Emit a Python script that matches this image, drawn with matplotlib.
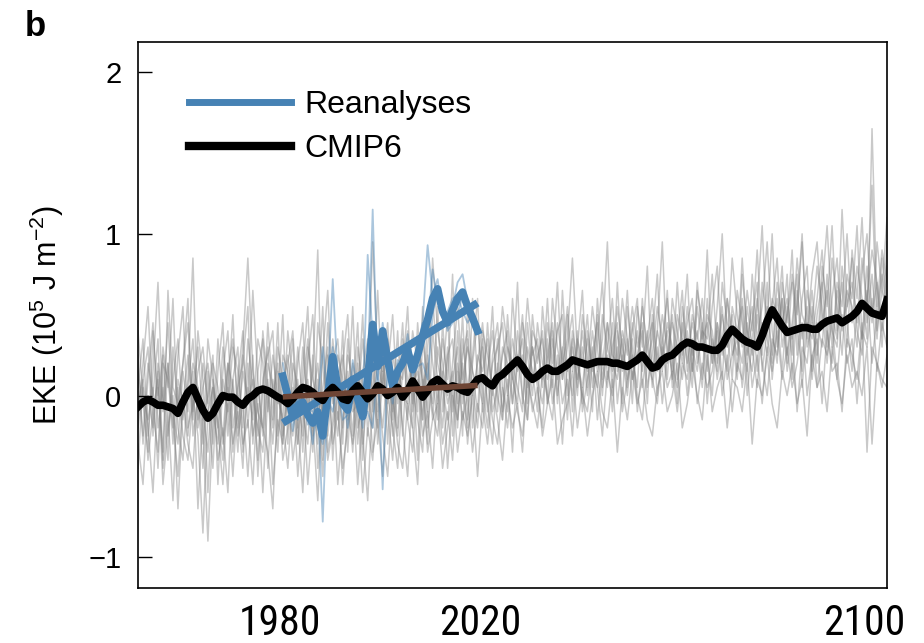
import numpy as np
import matplotlib
matplotlib.use("Agg")
import matplotlib.pyplot as plt
from matplotlib.lines import Line2D
from matplotlib.transforms import ScaledTranslation

plt.rcParams['font.family'] = ['Liberation Sans', 'DejaVu Sans']
plt.rcParams['mathtext.fontset'] = 'custom'
plt.rcParams['mathtext.rm'] = 'Liberation Sans'
plt.rcParams['mathtext.it'] = 'Liberation Sans:italic'
plt.rcParams['mathtext.bf'] = 'Liberation Sans:bold'
plt.rcParams['mathtext.default'] = 'regular'

# ---------------- data ----------------
years = list(range(1950, 2101))
rean_years = list(range(1979, 2019))

# CMIP6 multi-model mean (1950-2100)
cmip6_mean = [
    -0.07, -0.04, -0.025, -0.04, -0.06, -0.06, -0.07, -0.08, -0.11, -0.04,   # 1950s
    0.02, 0.05, -0.02, -0.09, -0.14, -0.11, -0.05, 0.00, -0.01, -0.01,       # 1960s
    -0.04, -0.06, -0.02, 0.00, 0.03, 0.04, 0.03, 0.01, -0.01, -0.025,        # 1970s
    -0.05, -0.02, 0.02, 0.05, 0.04, 0.02, -0.01, -0.03, 0.02, 0.05,          # 1980s
    0.02, -0.02, -0.03, 0.03, 0.06, 0.02, -0.02, 0.01, 0.06, 0.04,           # 1990s
    0.00, 0.02, 0.05, -0.01, 0.03, 0.09, 0.04, -0.01, 0.03, 0.08,            # 2000s
    0.10, 0.07, 0.04, 0.06, 0.05, 0.03, 0.02, 0.06, 0.10, 0.11,              # 2010s
    0.08, 0.06, 0.11, 0.13, 0.16, 0.19, 0.22, 0.18, 0.13, 0.10,              # 2020s
    0.12, 0.15, 0.17, 0.15, 0.15, 0.17, 0.19, 0.22, 0.21, 0.20,              # 2030s
    0.19, 0.20, 0.21, 0.21, 0.21, 0.20, 0.20, 0.19, 0.18, 0.20,              # 2040s
    0.22, 0.25, 0.21, 0.17, 0.18, 0.22, 0.24, 0.25, 0.28, 0.31,              # 2050s
    0.33, 0.32, 0.30, 0.30, 0.29, 0.28, 0.28, 0.31, 0.37, 0.41,              # 2060s
    0.38, 0.35, 0.33, 0.32, 0.30, 0.37, 0.46, 0.53, 0.48, 0.43,              # 2070s
    0.39, 0.40, 0.41, 0.42, 0.42, 0.41, 0.41, 0.44, 0.46, 0.47,              # 2080s
    0.48, 0.45, 0.47, 0.49, 0.52, 0.57, 0.54, 0.51, 0.50, 0.49,              # 2090s
    0.59,                                                                     # 2100
]

# Individual CMIP6 models (light grey spaghetti), 1950-2100
model_1 = [
    0.25, -0.30, 0.10, 0.45, -0.20, 0.05, -0.40, 0.30, -0.10, 0.20,
    0.60, -0.25, 0.00, -0.45, 0.15, -0.30, 0.35, -0.05, 0.20, -0.35,
    0.10, 0.40, -0.20, 0.25, -0.50, 0.05, 0.30, -0.15, 0.45, -0.25,
    0.00, 0.35, -0.30, 0.15, 0.55, -0.20, 0.10, -0.40, 0.25, 0.05,
    -0.15, 0.40, -0.35, 0.20, 0.00, 0.50, -0.25, 0.15, -0.10, 0.30,
    -0.30, 0.25, 0.05, 0.45, -0.15, 0.20, -0.40, 0.35, 0.10, -0.05,
    0.55, -0.10, 0.30, -0.25, 0.40, 0.05, -0.20, 0.60, 0.10, -0.05,
    0.45, 0.00, 0.35, -0.15, 0.50, 0.10, 0.70, -0.05, 0.30, 0.15,
    -0.10, 0.55, 0.20, 0.40, -0.05, 0.65, 0.15, 0.35, 0.00, 0.50,
    0.25, -0.10, 0.60, 0.20, 0.45, 0.05, 0.70, 0.15, 0.35, -0.05,
    0.55, 0.30, 0.80, 0.10, 0.40, 0.25, 0.65, 0.05, 0.50, 0.35,
    0.75, 0.15, 0.55, 0.30, 0.90, 0.20, 0.45, 0.10, 0.60, 0.40,
    0.25, 0.85, 0.35, 0.55, 0.15, 0.70, 0.45, 1.00, 0.30, 0.60,
    0.20, 0.75, 0.50, 0.95, 0.35, 0.65, 0.25, 0.80, 0.55, 1.05,
    0.40, 0.70, 0.30, 0.90, 0.60, 1.10, 0.45, 0.75, 0.35, 0.85,
    0.60,
]
model_2 = [
    -0.45, 0.10, -0.20, -0.60, 0.05, -0.35, 0.20, -0.15, -0.50, 0.00,
    -0.25, 0.15, -0.70, -0.10, -0.35, 0.10, -0.20, -0.55, 0.05, -0.30,
    -0.10, -0.45, 0.20, -0.25, -0.05, -0.60, 0.00, -0.30, 0.15, -0.40,
    -0.20, 0.05, -0.50, -0.10, -0.30, 0.25, -0.45, -0.05, -0.25, 0.10,
    -0.55, -0.15, 0.05, -0.35, 0.20, -0.25, -0.65, 0.00, -0.20, 0.15,
    -0.10, -0.40, 0.10, -0.20, -0.50, 0.05, -0.15, -0.35, 0.25, -0.10,
    -0.25, 0.15, -0.45, 0.00, -0.15, 0.20, -0.30, 0.05, -0.20, 0.30,
    -0.05, -0.30, 0.20, -0.10, 0.10, -0.35, 0.25, 0.00, -0.15, 0.30,
    0.05, -0.20, 0.35, -0.05, 0.15, -0.30, 0.20, 0.00, 0.40, -0.10,
    0.10, 0.30, -0.15, 0.20, 0.05, 0.45, -0.05, 0.25, 0.00, 0.35,
    -0.10, 0.20, 0.40, 0.05, 0.30, -0.05, 0.25, 0.50, 0.10, 0.35,
    0.00, 0.30, 0.15, 0.45, -0.05, 0.35, 0.20, 0.55, 0.10, 0.25,
    0.40, 0.05, 0.30, 0.15, 0.50, 0.20, 0.00, 0.35, 0.25, 0.60,
    0.15, 0.40, -0.10, 0.30, 0.20, 0.55, 0.05, 0.35, 0.25, 0.45,
    0.10, 0.50, 0.20, 0.35, -0.05, 0.40, 0.30, 0.60, 0.15, 0.45,
    0.30,
]
model_3 = [
    0.05, 0.35, -0.25, 0.15, 0.70, -0.10, 0.20, -0.30, 0.10, -0.05,
    0.25, -0.15, 0.40, 0.10, -0.60, 0.05, -0.20, 0.30, 0.00, 0.50,
    -0.20, 0.15, -0.05, 0.65, 0.10, -0.25, 0.20, 0.05, -0.35, 0.25,
    0.15, -0.15, 0.30, -0.05, 0.10, -0.35, 0.45, 0.20, -0.10, 0.35,
    0.05, -0.20, 0.25, 0.10, -0.30, 0.15, 0.35, -0.10, 0.65, 0.00,
    0.20, -0.10, 0.40, -0.25, 0.30, 0.05, 0.15, -0.15, 0.50, 0.20,
    -0.05, 0.35, 0.10, 0.75, -0.15, 0.25, 0.40, 0.00, 0.20, 0.45,
    0.10, 0.55, -0.10, 0.30, 0.20, -0.05, 0.40, 0.15, 0.60, 0.25,
    0.35, 0.05, 0.45, 0.20, 0.70, 0.10, 0.30, 0.50, 0.05, 0.40,
    0.15, 0.55, 0.30, 0.00, 0.45, 0.25, 0.20, 0.60, 0.35, 0.10,
    0.40, 0.15, 0.35, 0.60, 0.20, 0.50, 0.30, 0.15, 0.70, 0.25,
    0.45, 0.60, 0.20, 0.40, 0.35, 0.75, 0.25, 0.50, 0.30, 0.85,
    0.50, 0.30, 0.65, 0.40, 0.90, 0.35, 0.55, 0.25, 0.70, 0.45,
    0.60, 0.35, 0.85, 0.50, 0.40, 0.75, 0.95, 0.45, 0.65, 0.30,
    0.70, 0.55, 1.00, 0.45, 0.80, 0.60, 0.35, 1.65, 0.55, 0.90,
    0.70,
]
model_4 = [
    -0.15, 0.20, 0.55, -0.10, -0.35, 0.30, 0.05, 0.60, -0.20, -0.40,
    0.05, 0.35, -0.15, 0.20, -0.05, -0.45, 0.15, 0.45, -0.25, 0.10,
    0.30, -0.35, 0.05, -0.15, 0.35, 0.20, -0.45, 0.10, -0.05, 0.50,
    -0.30, 0.20, 0.05, -0.25, 0.30, 0.10, -0.05, 0.55, -0.35, -0.15,
    0.25, 0.10, -0.10, 0.55, -0.20, -0.05, 0.20, 0.40, -0.30, 0.10,
    0.35, 0.00, -0.25, 0.15, 0.55, -0.10, 0.25, 0.10, -0.30, 0.40,
    0.10, -0.20, 0.25, 0.35, -0.05, 0.50, -0.15, 0.20, 0.45, 0.05,
    -0.20, 0.25, 0.45, 0.05, -0.10, 0.60, 0.20, 0.35, -0.05, 0.50,
    0.20, 0.40, -0.05, 0.60, 0.30, 0.10, 0.50, -0.10, 0.35, 0.20,
    0.50, 0.05, 0.35, 0.70, 0.10, 0.30, 0.45, -0.05, 0.55, 0.25,
    0.05, 0.60, 0.20, 0.35, 0.75, 0.15, 0.45, 0.30, -0.05, 0.55,
    0.30, 0.05, 0.65, 0.45, 0.15, 0.55, 0.80, 0.25, 0.40, 0.10,
    0.65, 0.45, 0.15, 0.75, 0.35, 0.55, 0.95, 0.40, 0.20, 0.70,
    0.45, 0.90, 0.25, 0.60, 0.80, 0.15, 0.50, 0.70, 0.30, 0.85,
    0.55, 0.25, 0.75, 0.60, 1.05, 0.35, 0.80, 0.45, 0.95, 0.65,
    0.50,
]
model_5 = [
    -0.30, -0.55, 0.00, -0.20, 0.15, -0.45, -0.10, -0.65, 0.05, -0.25,
    -0.40, 0.00, -0.25, -0.85, -0.10, 0.05, -0.40, -0.20, -0.60, 0.10,
    -0.25, -0.05, -0.50, 0.00, -0.20, -0.35, 0.10, -0.55, -0.15, -0.30,
    0.05, -0.40, -0.15, -0.60, 0.00, -0.25, -0.05, -0.50, 0.15, -0.30,
    -0.10, -0.45, -0.20, 0.05, -0.55, -0.10, 0.10, -0.35, -0.15, -0.50,
    0.00, -0.20, -0.45, 0.05, -0.15, -0.35, 0.10, -0.25, -0.10, -0.45,
    0.05, -0.30, -0.10, -0.40, 0.15, -0.15, 0.00, -0.35, -0.05, -0.20,
    0.10, -0.15, -0.30, 0.05, -0.20, 0.15, -0.10, -0.25, 0.10, -0.05,
    -0.20, 0.15, 0.00, -0.15, 0.25, -0.05, 0.10, -0.25, 0.20, 0.00,
    -0.10, 0.20, 0.05, -0.25, 0.15, 0.00, 0.30, -0.10, 0.10, 0.25,
    0.00, -0.15, 0.20, 0.10, -0.05, 0.30, 0.05, 0.15, -0.10, 0.20,
    0.10, 0.35, -0.05, 0.20, 0.05, 0.15, 0.40, 0.00, 0.25, -0.10,
    0.20, 0.10, 0.45, 0.05, 0.25, -0.05, 0.30, 0.15, 0.40, 0.10,
    0.30, 0.05, 0.20, 0.45, 0.00, 0.25, 0.35, -0.05, 0.40, 0.15,
    0.20, -0.10, 0.35, 0.25, 0.10, 0.45, -0.35, 0.30, 0.20, 0.05,
    0.25,
]
model_6 = [
    0.15, -0.05, -0.35, 0.40, 0.00, 0.25, -0.25, 0.10, 0.35, -0.15,
    0.10, 0.85, -0.20, 0.05, 0.20, -0.10, -0.30, 0.15, 0.40, -0.20,
    0.05, 0.20, 0.55, -0.30, 0.15, 0.35, -0.10, 0.25, 0.00, -0.15,
    0.40, 0.10, -0.20, 0.30, -0.10, 0.15, 0.90, -0.25, 0.05, 0.20,
    0.35, -0.05, 0.15, -0.25, 0.30, 0.05, -0.10, 0.25, 0.10, -0.20,
    0.15, 0.50, -0.05, 0.30, 0.00, 0.40, 0.20, -0.15, 0.30, 0.60,
    0.20, 0.05, -0.15, 0.20, 0.55, 0.10, 0.30, 0.15, -0.10, 0.40,
    0.25, 0.05, 0.15, 0.55, 0.30, 0.10, -0.05, 0.45, 0.25, 0.00,
    0.45, 0.20, 0.10, 0.35, 0.00, 0.25, 0.55, 0.15, 0.30, 0.65,
    0.05, 0.40, 0.15, 0.35, 0.95, 0.20, 0.10, 0.40, 0.25, 0.55,
    0.30, 0.45, 0.05, 0.25, 0.55, 0.35, 0.10, 0.60, 0.40, 0.20,
    0.55, 0.25, 0.40, 0.10, 0.60, 0.30, 0.15, 0.70, 0.45, 0.35,
    0.10, 0.60, 0.25, 0.45, 0.70, 0.15, 0.40, 0.55, 0.85, 0.30,
    0.50, 0.70, 0.40, 0.15, 0.65, 0.45, 0.80, 0.55, 0.20, 0.60,
    0.85, 0.40, 0.65, 0.55, 0.30, 0.75, 1.00, 0.50, 0.70, 0.40,
    0.95,
]
model_7 = [
    -0.05, 0.10, 0.30, -0.25, 0.20, -0.05, 0.45, -0.10, -0.30, 0.15,
    -0.10, 0.20, 0.05, -0.30, 0.35, 0.10, -0.15, -0.40, 0.20, 0.05,
    -0.35, 0.25, -0.05, 0.10, -0.25, 0.40, 0.05, -0.20, 0.30, 0.10,
    -0.10, -0.25, 0.20, 0.45, -0.15, 0.00, -0.30, 0.25, 0.65, -0.05,
    0.15, -0.30, 0.35, -0.05, 0.10, -0.40, 0.20, 0.05, -0.15, 0.25,
    -0.05, 0.15, -0.20, 0.35, 0.10, -0.20, 0.45, 0.05, 0.20, -0.15,
    0.30, 0.10, 0.50, -0.10, 0.20, -0.05, 0.35, -0.20, 0.25, 0.15,
    0.35, -0.10, 0.05, 0.25, 0.40, -0.05, 0.20, 0.50, 0.05, 0.30,
    0.10, -0.05, 0.25, 0.45, 0.10, 0.30, -0.15, 0.40, 0.20, 0.05,
    0.35, 0.15, 0.50, 0.05, 0.25, -0.10, 0.40, 0.20, 0.65, 0.10,
    0.25, 0.40, -0.05, 0.50, 0.15, 0.35, 0.60, 0.20, 0.05, 0.45,
    0.20, 0.45, 0.30, 0.05, 0.50, 0.40, 0.10, 0.35, 0.60, 0.25,
    0.35, 0.20, 0.55, 0.30, 0.05, 0.45, 0.25, 0.60, 0.50, 0.15,
    0.55, 0.25, 0.65, 0.35, 0.55, 0.10, 0.45, 0.30, 0.75, 0.40,
    0.30, 0.80, 0.45, 0.15, 0.55, 0.35, 0.65, 0.20, 0.50, 0.75,
    0.55,
]
model_8 = [
    0.40, 0.00, -0.15, 0.05, -0.45, 0.20, 0.10, -0.20, 0.25, 0.55,
    -0.20, -0.05, 0.30, -0.15, 0.00, 0.25, -0.55, 0.10, -0.10, 0.30,
    0.15, -0.20, 0.35, 0.05, -0.40, 0.10, 0.25, 0.40, -0.25, 0.05,
    0.25, -0.05, 0.10, -0.35, 0.20, 0.50, -0.15, 0.05, 0.30, -0.40,
    0.10, 0.25, -0.15, 0.00, 0.45, -0.30, 0.05, -0.20, 0.30, 0.15,
    0.45, -0.15, 0.20, 0.00, -0.05, 0.25, -0.10, 0.55, -0.20, 0.10,
    -0.15, 0.45, 0.00, 0.15, -0.20, 0.35, 0.05, 0.25, 0.60, -0.10,
    0.15, 0.40, 0.00, -0.15, 0.30, 0.20, 0.05, -0.10, 0.45, 0.10,
    0.25, 0.35, -0.05, 0.15, 0.40, 0.50, 0.00, 0.30, 0.10, 0.30,
    0.00, 0.25, 0.45, 0.10, 0.30, 0.60, 0.15, 0.35, 0.05, 0.40,
    0.60, 0.05, 0.30, 0.45, 0.00, 0.25, 0.40, 0.10, 0.35, 0.65,
    0.15, 0.50, 0.35, 0.60, 0.25, 0.00, 0.45, 0.30, 0.15, 0.55,
    0.40, 0.55, 0.00, 0.35, 0.60, 0.25, 0.70, 0.10, 0.45, 0.80,
    0.25, 0.45, 0.75, 0.05, 0.45, 0.35, 0.60, 0.90, 0.40, 0.20,
    0.65, 0.45, 0.55, 0.85, 0.40, 0.25, 0.60, 0.90, 0.70, 0.30,
    0.80,
]
model_9 = [
    0.10, -0.25, 0.20, 0.00, 0.35, -0.40, 0.65, 0.05, -0.05, 0.20,
    0.45, -0.10, 0.15, 0.30, -0.05, 0.20, 0.05, -0.25, 0.15, 0.35,
    -0.05, 0.30, 0.85, 0.15, -0.10, -0.20, 0.45, 0.00, 0.20, -0.30,
    0.20, 0.40, -0.10, 0.05, 0.35, -0.05, 0.20, -0.15, 0.45, 0.00,
    -0.25, 0.20, 0.50, -0.10, -0.05, 0.35, 0.00, 0.95, 0.20, 0.05,
    0.30, -0.25, 0.15, 0.10, 0.40, -0.05, 0.30, 0.15, -0.10, 0.85,
    0.40, 0.20, -0.05, 0.10, 0.30, -0.25, 0.55, 0.15, 0.05, 0.35,
    -0.10, 0.20, 0.30, 0.45, 0.00, 0.35, 0.15, 0.25, -0.15, 0.40,
    0.30, 0.10, 0.60, 0.05, 0.45, 0.20, 0.35, 0.85, 0.25, -0.05,
    0.40, 0.20, 0.05, 0.50, 0.30, 0.15, 0.55, 0.30, 0.10, 0.45,
    0.20, 0.55, 0.30, 0.15, 0.40, 0.95, 0.20, 0.45, 0.30, 0.10,
    0.40, 0.15, 0.70, 0.35, 0.45, 0.20, 0.55, 1.00, 0.30, 0.50,
    0.15, 0.75, 0.40, 0.25, 0.55, 1.05, 0.35, 0.20, 0.60, 0.40,
    0.75, 0.10, 0.55, 1.00, 0.30, 0.45, 0.20, 0.65, 1.05, 0.50,
    0.35, 1.15, 0.55, 0.70, 0.45, 0.85, 0.55, 1.30, 0.40, 0.65,
    1.10,
]
model_10 = [
    -0.20, 0.05, -0.40, -0.10, 0.10, -0.55, -0.20, 0.00, -0.70, -0.05,
    -0.30, -0.45, 0.05, -0.20, -0.90, -0.15, 0.00, -0.30, -0.05, -0.50,
    0.00, -0.30, -0.15, -0.55, 0.05, -0.20, -0.35, -0.70, 0.00, -0.15,
    -0.45, 0.00, -0.30, 0.05, -0.55, -0.15, -0.65, 0.00, -0.40, -0.20,
    0.00, -0.55, -0.10, -0.30, -0.05, -0.60, -0.20, -0.40, 0.05, -0.25,
    -0.50, 0.00, -0.30, -0.45, -0.05, -0.20, -0.55, 0.10, -0.35, -0.15,
    -0.05, -0.45, -0.20, 0.05, -0.35, -0.10, -0.25, 0.00, -0.50, -0.05,
    -0.30, 0.05, -0.15, -0.40, 0.00, -0.20, -0.05, -0.35, 0.15, -0.10,
    0.05, -0.25, -0.05, 0.10, -0.30, -0.15, -0.05, 0.15, -0.20, 0.05,
    -0.25, 0.00, 0.15, -0.10, -0.20, 0.10, -0.35, 0.05, -0.15, 0.15,
    -0.05, 0.10, -0.15, -0.25, 0.05, 0.15, -0.10, 0.00, 0.20, -0.20,
    -0.05, 0.20, 0.00, -0.15, 0.25, -0.10, 0.05, 0.15, -0.20, 0.10,
    0.05, -0.10, 0.20, -0.30, 0.10, 0.00, 0.25, -0.05, -0.20, 0.15,
    0.00, 0.20, -0.05, 0.10, -0.25, 0.25, 0.05, 0.15, -0.10, 0.30,
    0.10, -0.05, 0.25, 0.05, 0.15, 0.00, 0.30, -0.30, 0.20, 0.10,
    0.05,
]
models = [model_1, model_2, model_3, model_4, model_5,
          model_6, model_7, model_8, model_9, model_10]

# Reanalyses mean (1979-2018)
rean_mean = [
    0.12, 0.00, -0.13, -0.06, -0.04, -0.12, -0.17, -0.10, -0.25, 0.00,
    0.24, 0.05, -0.05, -0.09, 0.10, -0.02, -0.13, 0.10, 0.44, 0.18,
    0.40, 0.22, 0.06, 0.15, 0.20, 0.28, 0.16, 0.25, 0.37, 0.47,
    0.60, 0.66, 0.52, 0.45, 0.53, 0.60, 0.64, 0.55, 0.48, 0.40,
]
# Individual reanalyses (1979-2018)
rean_a = [
    0.20, 0.02, -0.22, 0.00, -0.08, -0.10, -0.30, -0.05, -0.78, 0.05,
    0.72, 0.10, -0.15, -0.12, 0.22, 0.02, -0.20, 0.15, 1.15, 0.10,
    0.45, 0.20, -0.05, 0.22, 0.18, 0.38, 0.15, 0.30, 0.45, 0.93,
    0.62, 0.72, 0.50, 0.42, 0.55, 0.70, 0.75, 0.58, 0.45, 0.38,
]
rean_b = [
    0.05, -0.05, -0.10, -0.15, 0.02, -0.18, -0.12, -0.20, -0.30, -0.05,
    0.30, -0.02, 0.05, -0.20, 0.05, -0.10, -0.05, 0.87, 0.35, 0.25,
    0.30, 0.28, 0.15, 0.10, 0.25, 0.20, 0.22, 0.28, 0.45, 0.40,
    0.78, 0.58, 0.50, 0.52, 0.60, 0.62, 0.52, 0.45, 0.50, 0.42,
]
rean_c = [
    0.10, 0.03, -0.08, -0.02, -0.05, -0.08, -0.10, -0.05, 0.30, -0.02,
    -0.10, 0.08, -0.05, 0.05, 0.05, -0.02, -0.15, -0.10, -0.20, 0.20,
    -0.58, 0.20, 0.10, 0.12, 0.18, 0.25, 0.12, 0.18, 0.20, 0.10,
    0.50, 0.65, 0.55, 0.40, 0.45, 0.50, 0.62, 0.55, 0.50, 0.38,
]

xtick_vals = [1980, 2020, 2100]
ytick_vals = [-1, 0, 1, 2]
ytick_labels = ['\u22121', '0', '1', '2']
legend_labels = ['Reanalyses', 'CMIP6']

# ---------------- figure ----------------
W, H = 924, 643
fig = plt.figure(figsize=(W / 100, H / 100), dpi=100)
ax = fig.add_axes([138 / W, 1 - 588 / H, 749 / W, 546 / H])

BLUE = '#4682B4'
BROWN = '#6E4535'

for m in models:
    ax.plot(years[:len(m)], m, color='0.5', lw=1.1, alpha=0.42, zorder=1)

for r in (rean_a, rean_b, rean_c):
    ax.plot(rean_years, r, color=BLUE, lw=1.3, alpha=0.45, zorder=2)

ax.plot(rean_years, rean_mean, color=BLUE, lw=5.5, zorder=3)

ry = np.array(rean_years, dtype=float)
p_rean = np.polyfit(ry, np.array(rean_mean), 1)
ax.plot(ry[[0, -1]], np.polyval(p_rean, ry[[0, -1]]), color=BLUE, lw=5.5,
        zorder=4, solid_capstyle='butt')

ax.plot(years, cmip6_mean, color='black', lw=5.5, zorder=5)

yr_arr = np.array(years)
cm_sub = np.array(cmip6_mean)[(yr_arr >= 1979) & (yr_arr <= 2018)]
p_cm = np.polyfit(ry, cm_sub, 1)
ax.plot(ry[[0, -1]], np.polyval(p_cm, ry[[0, -1]]), color=BROWN, lw=4,
        zorder=6, solid_capstyle='butt')

# legend
handles = [Line2D([], [], color=BLUE, lw=5), Line2D([], [], color='black', lw=6)]
ax.legend(handles, legend_labels, loc='upper left',
          bbox_to_anchor=(0.068, 0.912), frameon=False, fontsize=23,
          handlelength=3.2, handletextpad=0.4, labelspacing=0.45,
          borderpad=0, borderaxespad=0)

ax.set_xlim(1950, 2100)
ax.set_ylim(-1.19, 2.186)

ax.set_yticks(ytick_vals)
ax.set_yticklabels(ytick_labels)
ax.tick_params(axis='y', direction='in', length=10, width=1.0, pad=12,
               labelsize=21)

ax.set_xticks(xtick_vals)
ax.set_xticklabels([str(v) for v in xtick_vals],
                   fontfamily=['Roboto Condensed', 'Liberation Sans Narrow',
                               'Liberation Sans'],
                   fontsize=30)
ax.tick_params(axis='x', length=0, pad=11)

# nudge x tick labels to their positions in the reference
xl = ax.get_xticklabels()
shifts = [-8, -7, 18]
for lab, dx in zip(xl, shifts):
    lab.set_transform(lab.get_transform() + ScaledTranslation(dx / 100, 0, fig.dpi_scale_trans))
xl[-1].set_horizontalalignment('right')

for s in ax.spines.values():
    s.set_linewidth(1.2)

ax.set_ylabel('EKE (10$^{5}$ J m$^{-2}$)', fontsize=22, labelpad=16)

fig.text(25 / W, 1 - 36 / H, 'b', fontsize=25, fontweight='bold',
         ha='left', va='baseline')

fig.savefig('out.png', dpi=100)
